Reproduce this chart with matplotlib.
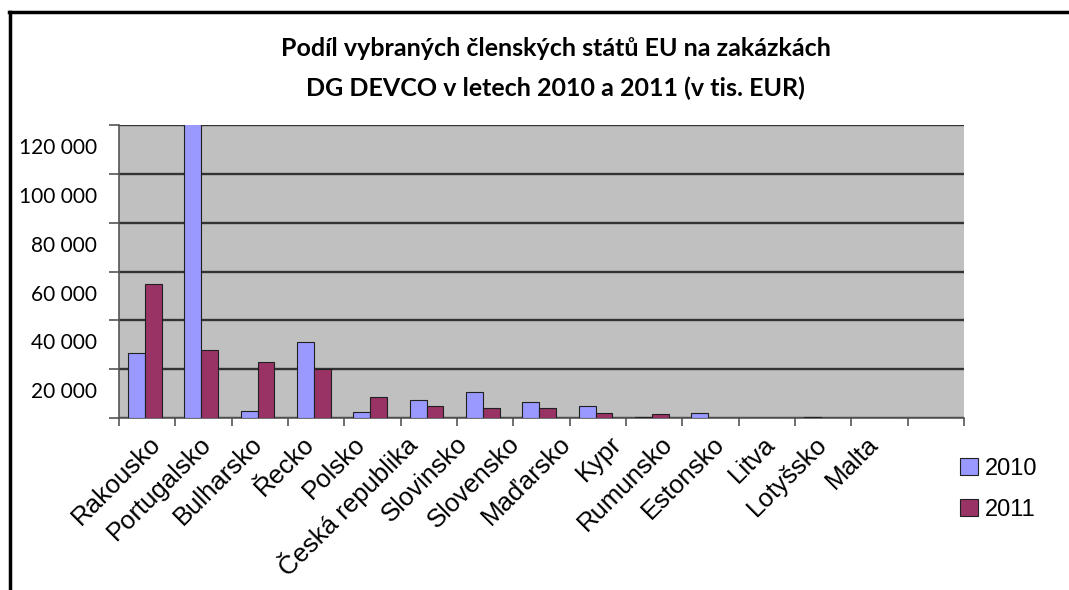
import numpy as np
import matplotlib
matplotlib.use('Agg')
import matplotlib.pyplot as plt
import matplotlib.transforms as mtransforms
from matplotlib.lines import Line2D

# data (tis. EUR)
countries = ['Rakousko', 'Portugalsko', 'Bulharsko', 'Řecko', 'Polsko',
             'Česká republika', 'Slovinsko', 'Slovensko', 'Maďarsko', 'Kypr',
             'Rumunsko', 'Estonsko', 'Litva', 'Lotyšsko', 'Malta']
vals_2010 = [26500, 150000, 3000, 31000, 2300, 7500, 10500, 6500, 5000, 300,
             1900, 0, 300, 0, 0]
vals_2011 = [55000, 28000, 23000, 20000, 8500, 5000, 4000, 4000, 2000, 1500,
             0, 0, 0, 0, 0]
y_ticks = [0, 20000, 40000, 60000, 80000, 100000, 120000]
y_labels = ['', '20 000', '40 000', '60 000', '80 000', '100 000', '120 000']

fig = plt.figure(figsize=(10.69, 5.90), dpi=100)
ax = fig.add_axes([0.1113, 0.2915, 0.7905, 0.4966])
ax.set_facecolor('#C0C0C0')

x = np.arange(len(countries))
w = 0.30
ax.bar(x - 0.34 + w / 2, vals_2010, w, color='#9999FF', edgecolor='#202020', linewidth=0.8, label='2010', zorder=3)
ax.bar(x - 0.34 + 1.5 * w, vals_2011, w, color='#993366', edgecolor='#202020', linewidth=0.8, label='2011', zorder=3)

ax.set_xlim(-0.5, len(countries) - 0.5)
ax.set_ylim(0, 120000)

# grid
ax.set_yticks(y_ticks)
ax.set_yticklabels(y_labels, family='Lato', fontsize=15)
ax.yaxis.grid(True, color='#333333', linewidth=1.7, zorder=1)
ax.tick_params(axis='y', length=7, width=1.2, color='#555555', pad=9)
# labels in the original sit between the gridlines
off = mtransforms.ScaledTranslation(0, -0.21, fig.dpi_scale_trans)
for lab in ax.get_yticklabels():
    lab.set_transform(lab.get_transform() + off)

# category labels drift a little left of the bars, as in the original
lab_pos = 0.17 + 0.91 * x
ax.set_xticks(lab_pos)
ax.set_xticklabels(countries, rotation=45, ha='right', va='center',
                   rotation_mode='anchor', family='Liberation Sans', fontsize=18.5)
ax.tick_params(axis='x', which='major', length=0, pad=16)
ax.set_xticks(np.arange(len(countries) + 1) - 0.5, minor=True)
ax.tick_params(axis='x', which='minor', length=6, width=1.2, color='#555555')

for s in ['top', 'right']:
    ax.spines[s].set_visible(False)
ax.spines['left'].set_color('#555555')
ax.spines['bottom'].set_color('#555555')
ax.spines['left'].set_linewidth(1.2)
ax.spines['bottom'].set_linewidth(1.2)

fig.text(0.52, 0.918, 'Podíl vybraných členských států EU na zakázkách',
         ha='center', va='center', family='Lato', fontweight='bold', fontsize=18)
fig.text(0.52, 0.851, 'DG DEVCO v letech 2010 a 2011 (v tis. EUR)',
         ha='center', va='center', family='Lato', fontweight='bold', fontsize=18)

leg = fig.legend(loc='upper left', bbox_to_anchor=(0.878, 0.26), frameon=False,
                 prop={'family': 'Liberation Sans', 'size': 17},
                 handlelength=0.75, handleheight=0.75, handletextpad=0.3, labelspacing=0.8)

# outer frame (only top and left edges are visible in the original)
fig.add_artist(Line2D([0.008, 1.0], [0.98, 0.98], color='black', linewidth=2.5))
fig.add_artist(Line2D([0.009, 0.009], [0.0, 0.98], color='black', linewidth=2.5))

fig.savefig('out.png', dpi=100)
